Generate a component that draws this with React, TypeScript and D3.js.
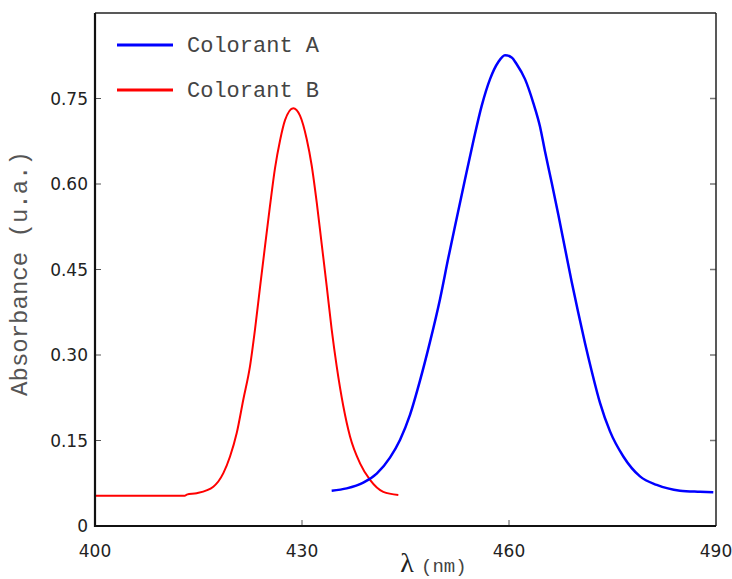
import React from "react";
import * as d3 from "d3";

const xTicks = [400, 430, 460, 490];
const yTicks = [0, 0.15, 0.3, 0.45, 0.6, 0.75];
const yTickLabels = ["0", "0.15", "0.30", "0.45", "0.60", "0.75"];

const lambdaB = [400, 413.0, 413.3, 414.74, 417.15, 418.6, 419.57, 420.54, 421.49, 422.46, 423.19, 423.91, 424.64, 425.36, 426.09, 426.81, 427.54, 428.74, 429.71, 430.68, 431.41, 432.13, 432.86, 433.58, 434.3, 435.03, 435.99, 436.96, 438.41, 439.86, 441.78, 443.96];
const absB = [0.053, 0.053, 0.055, 0.0575, 0.069, 0.0927, 0.1219, 0.163, 0.2216, 0.28, 0.345, 0.418, 0.491, 0.5615, 0.628, 0.676, 0.712, 0.733, 0.72, 0.679, 0.632, 0.568, 0.494, 0.421, 0.345, 0.28, 0.21, 0.157, 0.11, 0.081, 0.06, 0.0545];

const lambdaA = [434.3, 436.48, 438.88, 440.83, 442.75, 444.2, 445.65, 447.1, 448.55, 450.0, 451.2, 452.42, 453.62, 454.83, 456.04, 457.25, 458.45, 459.42, 460.39, 461.12, 462.32, 463.53, 464.49, 465.22, 466.19, 467.15, 468.12, 469.09, 470.04, 471.01, 471.98, 473.19, 474.64, 476.57, 478.99, 481.41, 484.78, 487.68, 489.61];
const absA = [0.062, 0.066, 0.076, 0.092, 0.12, 0.151, 0.195, 0.255, 0.323, 0.398, 0.47, 0.54, 0.608, 0.675, 0.737, 0.784, 0.814, 0.826, 0.822, 0.81, 0.784, 0.742, 0.701, 0.657, 0.602, 0.546, 0.487, 0.428, 0.374, 0.321, 0.272, 0.216, 0.166, 0.122, 0.087, 0.072, 0.062, 0.06, 0.059];

const seriesNames = ["Colorant A", "Colorant B"];
const seriesColors = ["#0000ff", "#ff0000"];

export default function App() {
  const W = 732, H = 579;
  const L = 95, R = 716, T = 13, B = 526;
  const x = d3.scaleLinear().domain([400, 490]).range([L, R]);
  const y = d3.scaleLinear().domain([0, 0.9]).range([B, T]);
  const line = d3.line<[number, number]>().x(d => x(d[0])).y(d => y(d[1])).curve(d3.curveMonotoneX);
  const dataA = lambdaA.map((l, i) => [l, absA[i]] as [number, number]);
  const dataB = lambdaB.map((l, i) => [l, absB[i]] as [number, number]);
  const mono = "'Liberation Mono', 'Courier New', monospace";
  const sans = "'DejaVu Sans', sans-serif";
  return (
    <svg width={W} height={H} style={{ position: "absolute", left: 0, top: 0, background: "#fff" }}>
      <rect x={0} y={0} width={W} height={H} fill="#fff" />
      <path d={line(dataB) || ""} fill="none" stroke={seriesColors[1]} strokeWidth={2} />
      <path d={line(dataA) || ""} fill="none" stroke={seriesColors[0]} strokeWidth={2.5} />
      {xTicks.slice(1, -1).map(t => (
        <line key={"xt" + t} x1={x(t)} x2={x(t)} y1={B} y2={B - 6} stroke="#555" strokeWidth={1} />
      ))}
      {yTicks.slice(1).map(t => (
        <g key={"yt" + t}>
          <line x1={L} x2={L + 6} y1={y(t)} y2={y(t)} stroke="#555" strokeWidth={1} />
          <line x1={R} x2={R - 6} y1={y(t)} y2={y(t)} stroke="#777" strokeWidth={1.5} />
        </g>
      ))}
      <line x1={L} x2={R} y1={T} y2={T} stroke="#222" strokeWidth={1.5} />
      <line x1={R} x2={R} y1={T} y2={B} stroke="#222" strokeWidth={1.5} />
      <line x1={L} x2={L} y1={T} y2={B + 1} stroke="#111" strokeWidth={2.2} />
      <line x1={L - 1} x2={R} y1={B} y2={B} stroke="#111" strokeWidth={2.2} />
      {xTicks.map(t => (
        <text key={"xl" + t} x={x(t)} y={557} textAnchor="middle" fontFamily={sans} fontSize={17} fill="#222">{t}</text>
      ))}
      {yTicks.map((t, i) => (
        <text key={"yl" + t} x={88} y={y(t)} dy="0.36em" textAnchor="end" fontFamily={sans} fontSize={17} fill="#222">{yTickLabels[i]}</text>
      ))}
      <text transform={`translate(27,${(T + B) / 2 + 4}) rotate(-90)`} textAnchor="middle" fontFamily={mono} fontSize={24} fill="#555">Absorbance (u.a.)</text>
      <text x={407} y={572} textAnchor="middle" fontFamily="'Liberation Serif', 'DejaVu Serif', serif" fontSize={28} fill="#222">λ</text>
      <text x={421} y={572} fontFamily={mono} fontSize={19} fill="#444">(nm)</text>
      {seriesNames.map((n, i) => (
        <g key={n}>
          <line x1={117} x2={173} y1={45 + i * 45} y2={45 + i * 45} stroke={seriesColors[i]} strokeWidth={3} />
          <text x={187} y={52 + i * 45} fontFamily={mono} fontSize={22} fill="#444">{n}</text>
        </g>
      ))}
    </svg>
  );
}
